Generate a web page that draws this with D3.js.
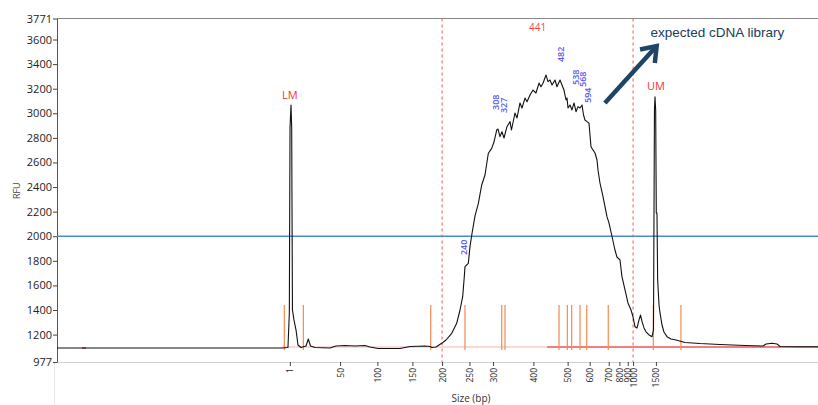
<!DOCTYPE html>
<html><head><meta charset="utf-8">
<script src="https://cdn.jsdelivr.net/npm/d3@7"></script>
<style>html,body{margin:0;padding:0;background:#fff;}svg{display:block;}</style>
</head><body>
<svg id="chart" width="818" height="405"></svg>
<script>
// Ladder calibration: fragment size (bp) vs migration time (s)
const ladderSizes = [1, 50, 100, 150, 200, 250, 300, 400, 500, 600, 700, 800, 900, 1000, 1500];
const ladderTimes = [50.6, 57.2, 62.1, 66.7, 70.6, 74.2, 77.3, 82.6, 87.1, 90.0, 92.5, 93.9, 95.0, 95.7, 98.7];
const yTickValues = [977, 1200, 1400, 1600, 1800, 2000, 2200, 2400, 2600, 2800, 3000, 3200, 3400, 3600, 3771];

// Electropherogram trace
const traceTime = [20, 32.2, 45.4, 49.6, 50.35, 50.53, 50.62, 50.75, 50.84, 50.88,
  50.94, 51.14, 51.41, 51.67, 52.06, 52.72, 53.02, 53.31, 53.90, 55.87,
  56.66, 57.84, 59.16, 60.47, 61.13, 62.18, 65.07, 66.39, 68.36, 69.01,
  69.28, 69.80, 70.55, 71.12, 71.87, 72.52, 72.96, 73.31, 73.52, 73.61,
  74.05, 74.27, 74.50, 74.93, 75.37, 75.81, 76.24, 76.68, 77.12, 77.42,
  77.78, 77.95, 78.21, 78.47, 78.74,
  79.13, 79.53, 79.72, 80.18, 80.45, 80.84, 81.10, 81.50, 81.76, 82.16,
  82.55, 82.94, 83.34, 83.60, 83.86, 84.26, 84.52, 84.78, 85.05, 85.44,
  85.70, 86.10, 86.36, 86.62, 86.89, 87.02, 87.15, 87.41, 87.67, 87.94,
  88.20, 88.46, 88.73, 88.99, 89.19, 89.38, 89.65, 89.91, 90.17, 90.43,
  90.70, 90.96, 91.09, 91.35, 91.75, 92.01, 92.27, 92.53, 92.89, 93.32,
  93.58, 93.98, 94.24, 94.64, 95.03, 95.43, 95.69, 95.95, 96.22, 96.48,
  96.68, 96.88, 97.14, 97.40, 97.80, 98.19, 98.38, 98.51, 98.58, 98.67,
  98.75, 98.84, 98.93, 99.11, 99.24, 99.50, 99.76, 100.16, 100.68, 101.34,
  102.52, 104.49, 107.12, 110.41, 112.77, 113.17, 113.96, 114.61, 115.01, 117.64,
  120];
const traceRFU = [1091, 1091, 1091, 1091, 1095, 1376, 2880, 3067, 2880, 2254,
  1400, 1319, 1237, 1115, 1095, 1107, 1164, 1107, 1095, 1091,
  1107, 1111, 1107, 1111, 1099, 1087, 1087, 1103, 1107, 1103,
  1095, 1099, 1129, 1156, 1210, 1292, 1400, 1508, 1671, 1752,
  1780, 1915, 2010, 2165, 2268, 2417, 2498, 2675, 2715, 2766,
  2864, 2872, 2810, 2850, 2799,
  2891, 2932, 2864, 3002, 2962, 3084, 3043, 3124, 3094, 3149,
  3189, 3165, 3246, 3216, 3244, 3311, 3257, 3271, 3230, 3271,
  3216, 3271, 3230, 3189, 3108, 3124, 3043, 3067, 3027, 3084,
  3013, 3054, 3043, 3067, 2986, 2945, 2932, 2919, 2728, 2702,
  2677, 2620, 2539, 2433, 2322, 2240, 2159, 2108, 2010, 1888,
  1831, 1807, 1671, 1563, 1457, 1400, 1345, 1264, 1254, 1319,
  1359, 1305, 1254, 1223, 1197, 1183, 1237, 3027, 3135, 3027,
  2189, 2189, 1644, 1441, 1376, 1278, 1221, 1183, 1164, 1156,
  1136, 1127, 1119, 1111, 1107, 1124, 1130, 1124, 1103, 1101,
  1101];

// Peak annotations
const peakSizes = [240, 308, 327, 482, 538, 568, 594];
const peakLabelRFU = [1847, 3027, 3002, 3417, 3230, 3214, 3084];
const markerNames = ["LM", "UM"];
const markerSizes = [1, 1500];
const markerLabelRFU = [3116, 3189];
const regionBounds = [200, 1000];
const regionLabel = "441";
const regionLabelRFU = 3669;
const boundaryTimes = [49.87, 52.37, 69.11, 73.61, 78.44, 78.87, 85.97, 87.06, 87.63, 88.73, 89.61, 92.44, 98.36, 101.99];
const boundaryRange = [1075, 1441];
const thresholdRFU = 2000;
const baselinePink = [49.57, 84.39];
const baselineRed = [84.39, 120];
const baselineRFU = 1099;
const smallMark = [23.3, 23.8];
// Annotation ("expected cDNA library") in data coordinates
const arrowFrom = [92.0, 3084];
const arrowTo = [98.8, 3547];
const noteText = "expected cDNA library";
const notePos = [98.0, 3623];

const svg = d3.select("#chart");
const font = "'Segoe UI','Open Sans','Noto Sans',sans-serif";
const x = d3.scaleLinear().domain([20, 120]).range([57, 818]);
const y = d3.scaleLinear().domain([977, 3771]).range([362, 18.5]);
const sizeToTime = d3.scaleLinear().domain(ladderSizes).range(ladderTimes);

// light guide below axis
svg.append("line").attr("x1", 54.5).attr("x2", 54.5).attr("y1", 362).attr("y2", 405)
  .attr("stroke", "#e6e6e6").attr("stroke-width", 1);

// top frame
svg.append("line").attr("x1", 57).attr("x2", 818).attr("y1", y(3771)).attr("y2", y(3771))
  .attr("stroke", "#888").attr("stroke-width", 1);

// x axis
const xAxis = svg.append("g").attr("transform", `translate(0,${y(977)})`)
  .call(d3.axisBottom(x).tickValues(ladderTimes).tickFormat((d, i) => ladderSizes[i]).tickSize(4).tickSizeOuter(0));
xAxis.select(".domain").attr("stroke", "#cfcfcf").attr("d", `M53,0.5H818`);
xAxis.selectAll(".tick line").attr("stroke", "#444");
xAxis.selectAll(".tick text")
  .attr("transform", "rotate(-90)").attr("x", -6).attr("y", 0).attr("dy", "0.35em")
  .style("text-anchor", "end").style("font-family", font).style("font-size", "8.5px").attr("fill", "#222");

// y axis
const yAxis = svg.append("g").attr("transform", "translate(57,0)")
  .call(d3.axisLeft(y).tickValues(yTickValues).tickFormat(d3.format("d")).tickSize(4).tickSizeOuter(0));
yAxis.select(".domain").attr("stroke", "#555");
yAxis.selectAll(".tick line").attr("stroke", "#444");
yAxis.selectAll(".tick text").attr("x", -5).style("font-family", font).style("font-size", "11px").attr("fill", "#222");

// axis titles
svg.append("text").attr("transform", `translate(20,${y(2370)}) rotate(-90)`)
  .attr("text-anchor", "middle").style("font-family", font).style("font-size", "9px").attr("fill", "#444").text("RFU");
svg.append("text").attr("x", x(74.4)).attr("y", 402)
  .attr("text-anchor", "middle").style("font-family", font).style("font-size", "10px").attr("fill", "#333").text("Size (bp)");

// threshold line
svg.append("line").attr("x1", 57).attr("x2", 818).attr("y1", y(thresholdRFU)).attr("y2", y(thresholdRFU))
  .attr("stroke", "#4a8bd0").attr("stroke-width", 1.5);

// baselines
svg.append("line").attr("x1", x(baselinePink[0])).attr("x2", x(baselinePink[1]))
  .attr("y1", y(baselineRFU)).attr("y2", y(baselineRFU)).attr("stroke", "#f7b0b0").attr("stroke-width", 1.2);
svg.append("line").attr("x1", x(baselineRed[0])).attr("x2", x(baselineRed[1]))
  .attr("y1", y(baselineRFU)).attr("y2", y(baselineRFU)).attr("stroke", "#f25555").attr("stroke-width", 1.6);
svg.append("line").attr("x1", x(smallMark[0])).attr("x2", x(smallMark[1]))
  .attr("y1", y(1091)).attr("y2", y(1091)).attr("stroke", "#e03030").attr("stroke-width", 1.5);

// peak boundary markers
svg.append("g").selectAll("line").data(boundaryTimes).join("line")
  .attr("x1", d => x(d)).attr("x2", d => x(d))
  .attr("y1", y(boundaryRange[0])).attr("y2", y(boundaryRange[1]))
  .attr("stroke", "#f58a50").attr("stroke-width", 1.2);

// region dashed lines
svg.append("g").selectAll("line").data(regionBounds).join("line")
  .attr("x1", d => x(sizeToTime(d))).attr("x2", d => x(sizeToTime(d)))
  .attr("y1", y(3771)).attr("y2", y(977))
  .attr("stroke", "#f05a5a").attr("stroke-width", 1).attr("stroke-dasharray", "3,3");

// trace
const tracePts = traceTime.map((t, i) => [t, traceRFU[i]]);
svg.append("path").datum(tracePts)
  .attr("d", d3.line().x(d => x(d[0])).y(d => y(d[1])))
  .attr("fill", "none").attr("stroke", "#111").attr("stroke-width", 1.1).attr("stroke-linejoin", "round");

// region label
svg.append("text").attr("x", (x(sizeToTime(regionBounds[0])) + x(sizeToTime(regionBounds[1]))) / 2)
  .attr("y", y(regionLabelRFU)).attr("text-anchor", "middle")
  .style("font-family", font).style("font-size", "10px").attr("fill", "#f04848").text(regionLabel);

// marker labels
svg.append("g").selectAll("text").data(markerNames).join("text")
  .attr("x", (d, i) => x(sizeToTime(markerSizes[i]))).attr("y", (d, i) => y(markerLabelRFU[i]))
  .attr("text-anchor", "middle").style("font-family", font).style("font-size", "11px").attr("fill", "#ee3535").text(d => d);

// peak labels
svg.append("g").selectAll("text").data(peakSizes).join("text")
  .attr("transform", (d, i) => `translate(${x(sizeToTime(d)) + 3},${y(peakLabelRFU[i])}) rotate(-90)`)
  .attr("text-anchor", "start").style("font-family", font).style("font-size", "9px").style("font-weight", "600")
  .attr("fill", "#5a5af5").text(d => d);

// annotation arrow
const ax0 = x(arrowFrom[0]), ay0 = y(arrowFrom[1]), ax1 = x(arrowTo[0]), ay1 = y(arrowTo[1]);
const ang = Math.atan2(ay0 - ay1, ax0 - ax1);
const headLen = 17, spread = 36 * Math.PI / 180;
const navy = "#1f4466";
svg.append("line").attr("x1", ax0).attr("y1", ay0).attr("x2", ax1 - 2 * Math.cos(ang + Math.PI)).attr("y2", ay1 - 2 * Math.sin(ang + Math.PI))
  .attr("stroke", navy).attr("stroke-width", 4.5);
svg.append("path")
  .attr("d", `M${ax1 + headLen * Math.cos(ang - spread)},${ay1 + headLen * Math.sin(ang - spread)}L${ax1},${ay1}L${ax1 + headLen * Math.cos(ang + spread)},${ay1 + headLen * Math.sin(ang + spread)}`)
  .attr("fill", "none").attr("stroke", navy).attr("stroke-width", 4.5).attr("stroke-linejoin", "miter");
svg.append("text").attr("x", x(notePos[0])).attr("y", y(notePos[1]))
  .style("font-family", "'Liberation Sans',Arial,sans-serif").style("font-size", "13.5px").attr("fill", "#203c5e").text(noteText);
</script>
</body></html>
